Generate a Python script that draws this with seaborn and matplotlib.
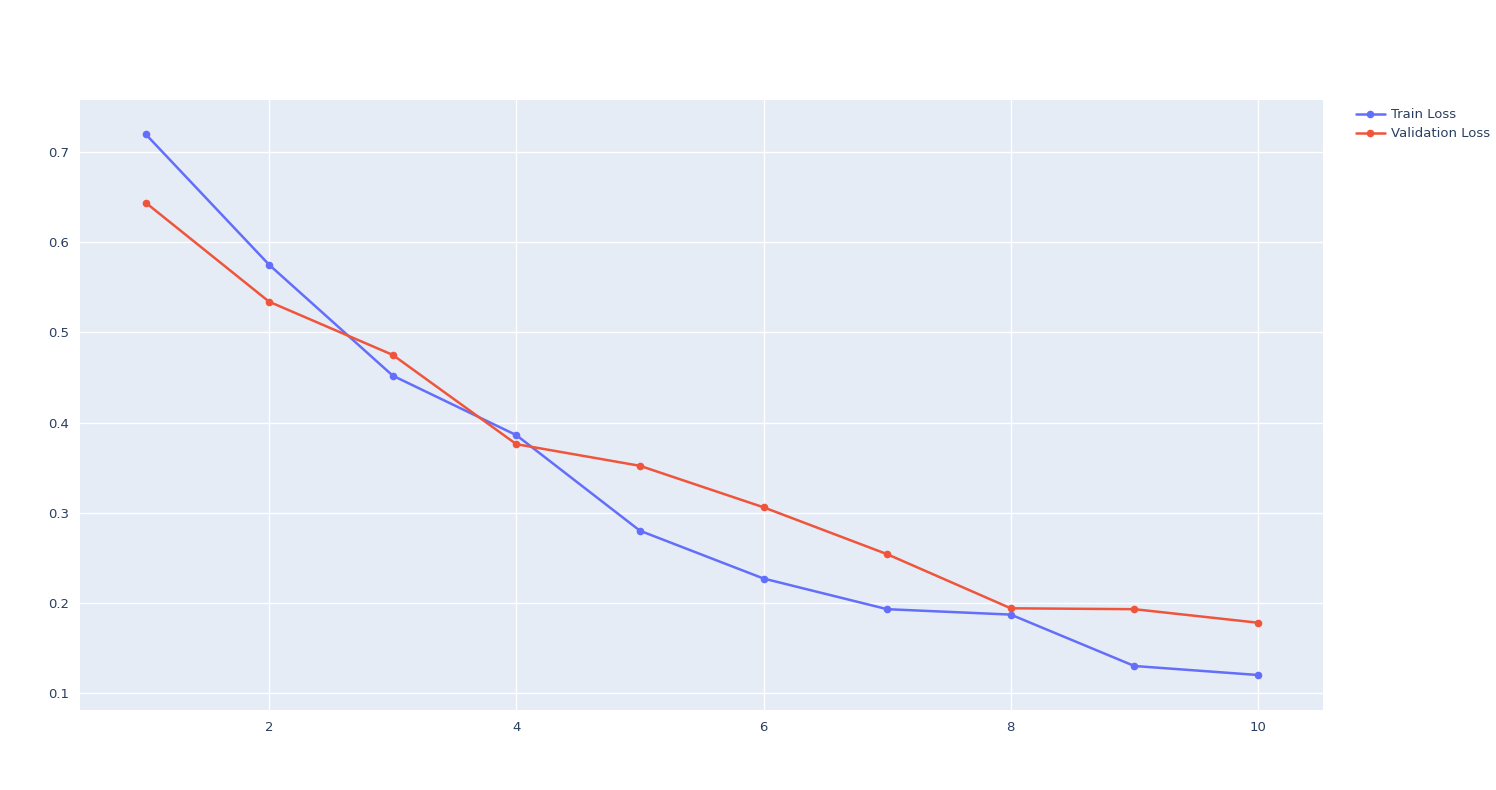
import matplotlib
matplotlib.use("Agg")
import matplotlib.pyplot as plt
import pandas as pd
import seaborn as sns

epochs = [1, 2, 3, 4, 5, 6, 7, 8, 9, 10]
train_loss = [0.720, 0.575, 0.452, 0.386, 0.280, 0.227, 0.193, 0.187, 0.130, 0.120]
val_loss = [0.644, 0.534, 0.475, 0.376, 0.352, 0.306, 0.254, 0.194, 0.193, 0.178]

df = pd.concat([
    pd.DataFrame({"epoch": epochs, "loss": train_loss, "series": "Train Loss"}),
    pd.DataFrame({"epoch": epochs, "loss": val_loss, "series": "Validation Loss"}),
])

sns.set_theme(style="darkgrid", rc={
    "axes.facecolor": "#E5ECF6",
    "grid.color": "white",
    "grid.linewidth": 1.0,
})
plt.rcParams["font.family"] = ["DejaVu Sans"]
text_color = "#2a3f5f"

fig = plt.figure(figsize=(14.96, 7.9), dpi=100)
ax = fig.add_axes([80 / 1496, 80 / 790, (1323 - 80) / 1496, (710 - 100) / 790])

sns.lineplot(
    data=df, x="epoch", y="loss", hue="series",
    palette={"Train Loss": "#636EFA", "Validation Loss": "#EF553B"},
    marker="o", markersize=5.5, markeredgewidth=0, linewidth=1.8, ax=ax,
)

ax.set_xlim(0.47, 10.526)
ax.set_ylim(0.0812, 0.7577)
ax.set_xticks([2, 4, 6, 8, 10])
ax.set_yticks([0.1, 0.2, 0.3, 0.4, 0.5, 0.6, 0.7])
ax.set_yticklabels(["0.1", "0.2", "0.3", "0.4", "0.5", "0.6", "0.7"])
ax.set_xlabel("")
ax.set_ylabel("")
ax.tick_params(axis="both", colors=text_color, labelsize=9.5, length=0, pad=8)
for s in ax.spines.values():
    s.set_visible(False)

handles, labels = ax.get_legend_handles_labels()
ax.legend(
    handles, labels, loc="upper left", bbox_to_anchor=(1.022, 0.995),
    frameon=False, fontsize=9.5, labelcolor=text_color,
    handlelength=2.2, handletextpad=0.5, borderaxespad=0, labelspacing=0.45,
)

fig.savefig("out.png", dpi=100)
